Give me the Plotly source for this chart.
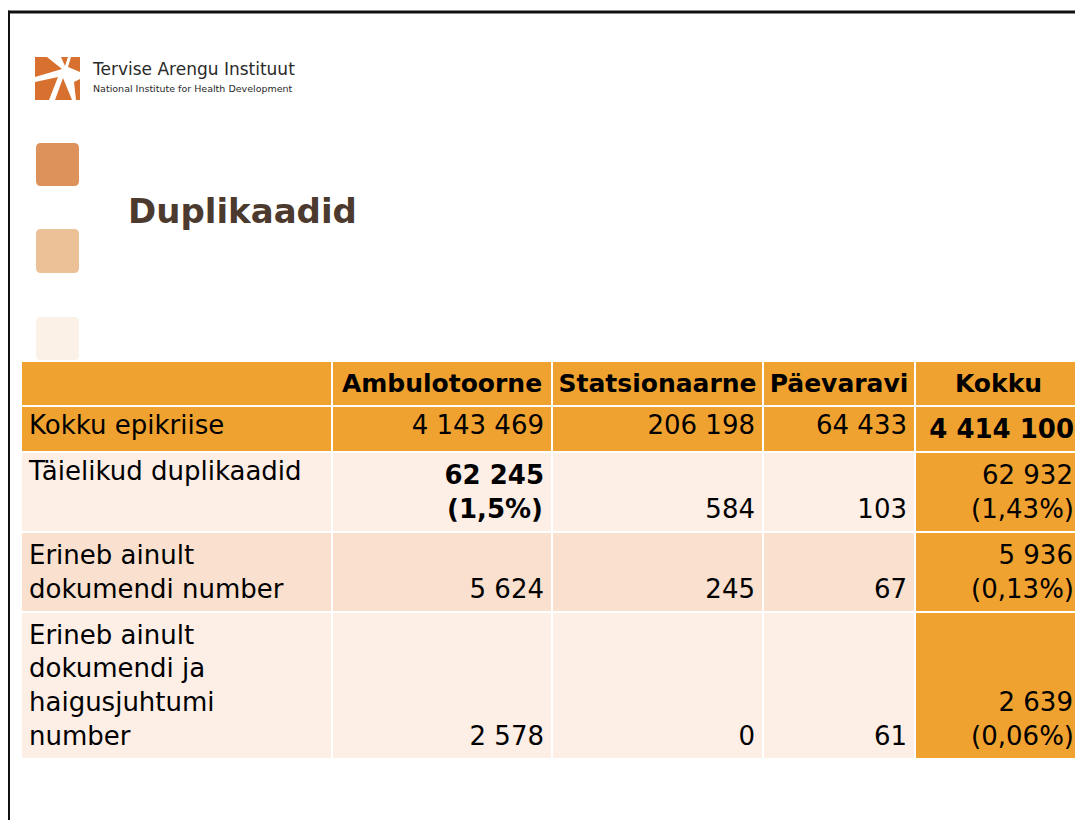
import plotly.graph_objects as go

# ---------------- data ----------------
row_labels = ["Kokku epikriise", "Täielikud duplikaadid",
              "Erineb ainult<br>dokumendi number",
              "Erineb ainult<br>dokumendi ja<br>haigusjuhtumi<br>number"]
columns = ["Ambulotoorne", "Statsionaarne", "Päevaravi", "Kokku"]
ambulatoorne = [4143469, 62245, 5624, 2578]
statsionaarne = [206198, 584, 245, 0]
paevaravi = [64433, 103, 67, 61]
kokku = [4414100, 62932, 5936, 2639]
ambulatoorne_pct = ["", "1,5%", "", ""]
kokku_pct = ["", "1,43%", "0,13%", "0,06%"]
row_lines = [1, 2, 2, 4]   # text lines used in each row

# ---------------- styles ----------------
ORANGE = "#F0A230"
LIGHT = "#FDEEE6"
MID = "#F9E0CF"
FONT = "DejaVu Sans"
NB = "\u00a0"

W, H = 1083, 820
OFF = 8  # page body margin: figure starts 8px into the window


def px(x):
    return (x - OFF) / W


def py(y):
    return 1 - (y - OFF) / H


def fmt(v):
    return f"{v:,}".replace(",", NB)


# approximate DejaVu Sans advance widths (em) used to right-align each line
REG = {NB: 0.318, ",": 0.318, "(": 0.390, ")": 0.390, "%": 0.950}
BLD = {NB: 0.348, ",": 0.380, "(": 0.458, ")": 0.458, "%": 1.002}
PADS = [("\u2007", 0.636), ("\u2008", 0.318), ("\u2009", 0.2), ("\u200a", 0.1)]


def text_width(s, bold):
    tbl = BLD if bold else REG
    dig = 0.696 if bold else 0.636
    return sum(dig if ch.isdigit() else tbl.get(ch, 0.6) for ch in s)


def pad_to(diff):
    out = ""
    for ch, w in PADS:
        while diff >= w - 0.05:
            out += ch
            diff -= w
    return out


def right_lines(lines, bold):
    widths = [text_width(l, bold) for l in lines]
    mx = max(widths)
    res = []
    for l, w in zip(lines, widths):
        body = f"<b>{l}</b>" if bold else l
        res.append(pad_to(mx - w) + body)
    return res


def num_col(values, pcts=None, bold_rows=()):
    out = []
    for i, v in enumerate(values):
        lines = [fmt(v)]
        if pcts and pcts[i]:
            lines.append(f"({pcts[i]})")
        lines = right_lines(lines, i in bold_rows)
        lines = [NB] * (row_lines[i] - len(lines)) + lines
        out.append("<br>".join(lines))
    return out


cells = [
    row_labels,
    num_col(ambulatoorne, ambulatoorne_pct, bold_rows=(1,)),
    num_col(statsionaarne),
    num_col(paevaravi),
    num_col(kokku, kokku_pct, bold_rows=(0,)),
]

row_fill = [ORANGE, LIGHT, MID, LIGHT]
fills = [row_fill, row_fill, row_fill, row_fill, [ORANGE] * 4]

fig = go.Figure()

fig.add_trace(go.Table(
    domain=dict(x=[px(21), px(1082)], y=[py(762), py(361)]),
    columnwidth=[311, 220, 211, 152, 167],
    header=dict(
        values=[""] + [f"<b>{c}</b>" for c in columns],
        fill_color=ORANGE,
        line=dict(color="white", width=2),
        align="center",
        font=dict(family=FONT, size=25, color="black"),
        height=42,
    ),
    cells=dict(
        values=cells,
        fill_color=fills,
        line=dict(color="white", width=2),
        align=["left", "right", "right", "right", "right"],
        font=dict(family=FONT, size=26, color="black"),
        height=42,
    ),
))

shapes = []
# slide frame
shapes.append(dict(type="line", xref="paper", yref="paper",
                   x0=px(8.5), x1=px(W + 20), y0=py(12), y1=py(12),
                   line=dict(color="#111111", width=3)))
shapes.append(dict(type="line", xref="paper", yref="paper",
                   x0=px(8.5), x1=px(8.5), y0=py(10.5), y1=py(H + 20),
                   line=dict(color="#111111", width=3)))


def rounded(x0, y0, x1, y1, r):
    X = lambda v: f"{px(v):.5f}"
    Y = lambda v: f"{py(v):.5f}"
    return (f"M{X(x0 + r)},{Y(y0)} L{X(x1 - r)},{Y(y0)} Q{X(x1)},{Y(y0)} {X(x1)},{Y(y0 + r)} "
            f"L{X(x1)},{Y(y1 - r)} Q{X(x1)},{Y(y1)} {X(x1 - r)},{Y(y1)} L{X(x0 + r)},{Y(y1)} "
            f"Q{X(x0)},{Y(y1)} {X(x0)},{Y(y1 - r)} L{X(x0)},{Y(y0 + r)} Q{X(x0)},{Y(y0)} {X(x0 + r)},{Y(y0)} Z")


for (y0, y1, col) in [(143, 186, "#DC925A"), (229, 273, "#EDC198"), (317, 360, "#FBF1E6")]:
    shapes.append(dict(type="path", xref="paper", yref="paper",
                       path=rounded(36, y0, 79, y1, 5),
                       fillcolor=col, line=dict(width=0), layer="below"))

# logo pieces
LOGO = "#D8712F"
logo_polys = [
    [(35, 57), (47, 57), (62, 69), (35, 77)],
    [(35, 82), (58, 77), (49, 100), (35, 100)],
    [(63, 78), (55, 100), (72, 100)],
    [(74, 82), (80, 79), (80, 100), (76, 100)],
    [(71, 57), (80, 57), (80, 72), (68, 67)],
    [(61, 57), (68, 57), (65, 66)],
]
for poly in logo_polys:
    p = "M" + " L".join(f"{px(x):.5f},{py(y):.5f}" for x, y in poly) + " Z"
    shapes.append(dict(type="path", xref="paper", yref="paper", path=p,
                       fillcolor=LOGO, line=dict(width=0)))

annotations = [
    dict(x=px(90), y=py(69), text="Tervise Arengu Instituut",
         font=dict(family=FONT, size=17, color="#2a2a2a")),
    dict(x=px(91), y=py(89), text="National Institute for Health Development",
         font=dict(family=FONT, size=9.5, color="#2a2a2a")),
    dict(x=px(126), y=py(211), text="<b>Duplikaadid</b>",
         font=dict(family=FONT, size=34, color="#4D3A2E")),
]
for a in annotations:
    a.update(xref="paper", yref="paper", showarrow=False,
             xanchor="left", yanchor="middle")

fig.update_layout(
    width=W, height=H,
    margin=dict(l=0, r=0, t=0, b=0),
    paper_bgcolor="white", plot_bgcolor="white",
    shapes=shapes,
    annotations=annotations,
    showlegend=False,
)

fig.write_html("out.html")
